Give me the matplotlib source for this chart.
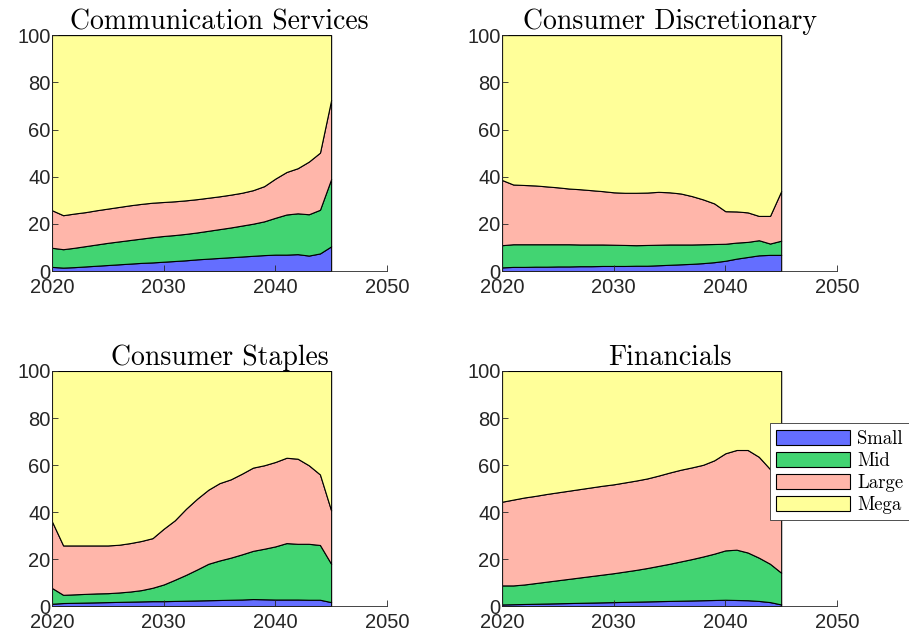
import numpy as np
import matplotlib
matplotlib.use('Agg')
import matplotlib.pyplot as plt

#%% data: market-cap shares (%) per sector, 2020-2045

years = np.arange(2020, 2046)
groups = ['Small', 'Mid', 'Large', 'Mega']
colors = ['#646EFF', '#42D472', '#FFB6AA', '#FFFF99']

comm_small = [1.8, 1.5, 1.7, 2.0, 2.3, 2.6, 2.9, 3.2, 3.5, 3.7, 4.0, 4.3, 4.6,
              5.0, 5.3, 5.6, 5.9, 6.2, 6.5, 6.8, 7.0, 7.0, 7.2, 6.6, 7.5, 10.5]
comm_mid = [8.1, 7.8, 8.2, 8.6, 9.0, 9.4, 9.7, 10.0, 10.3, 10.7, 10.9, 11.0, 11.2,
            11.4, 11.8, 12.2, 12.6, 13.1, 13.6, 14.3, 15.6, 17.0, 17.3, 17.5, 18.5, 28.5]
comm_large = [15.9, 14.4, 14.5, 14.4, 14.5, 14.5, 14.6, 14.7, 14.7, 14.6, 14.4, 14.3, 14.2,
              14.1, 14.0, 13.9, 13.9, 13.9, 14.2, 14.9, 16.6, 18.0, 19.1, 22.3, 24.2, 33.5]
comm_mega = [74.2, 76.3, 75.6, 75.0, 74.2, 73.5, 72.8, 72.1, 71.5, 71.0, 70.7, 70.4, 70.0,
             69.5, 68.9, 68.3, 67.6, 66.8, 65.7, 64.0, 60.8, 58.0, 56.4, 53.6, 49.8, 27.5]

disc_small = [1.6, 1.8, 1.8, 1.9, 1.9, 2.0, 2.0, 2.1, 2.1, 2.2, 2.2, 2.2, 2.3,
              2.3, 2.5, 2.7, 2.9, 3.1, 3.4, 3.8, 4.4, 5.3, 6.0, 6.7, 6.9, 6.9]
disc_mid = [9.4, 9.6, 9.6, 9.5, 9.5, 9.4, 9.4, 9.2, 9.2, 9.1, 9.0, 8.9, 8.7,
            8.8, 8.7, 8.6, 8.4, 8.2, 8.0, 7.7, 7.2, 6.8, 6.4, 6.4, 4.8, 6.0]
disc_large = [27.6, 25.3, 25.1, 24.9, 24.5, 24.1, 23.6, 23.4, 23.0, 22.6, 22.2, 22.1, 22.2,
              22.2, 22.4, 22.1, 21.6, 20.5, 19.0, 17.2, 13.8, 13.2, 12.5, 10.3, 11.7, 21.0]
disc_mega = [61.4, 63.3, 63.5, 63.7, 64.1, 64.5, 65.0, 65.3, 65.7, 66.1, 66.6, 66.8, 66.8,
             66.7, 66.4, 66.6, 67.1, 68.2, 69.6, 71.3, 74.6, 74.7, 75.1, 76.6, 76.6, 66.1]

stap_small = [1.0, 1.3, 1.4, 1.5, 1.6, 1.7, 1.8, 1.9, 2.0, 2.1, 2.1, 2.2, 2.3,
              2.4, 2.5, 2.6, 2.7, 2.8, 3.0, 2.9, 2.8, 2.8, 2.8, 2.7, 2.7, 1.7]
stap_mid = [6.7, 3.5, 3.6, 3.7, 3.8, 3.8, 4.0, 4.3, 4.8, 5.7, 7.1, 9.0, 11.0,
            13.2, 15.5, 16.8, 17.9, 19.2, 20.5, 21.5, 22.6, 24.0, 23.7, 23.8, 23.3, 16.3]
stap_large = [28.3, 21.0, 20.8, 20.6, 20.4, 20.3, 20.3, 20.6, 20.9, 21.1, 23.7, 25.3, 28.1,
              30.1, 31.5, 32.9, 33.3, 34.3, 35.4, 35.5, 35.9, 36.3, 36.2, 33.4, 30.0, 22.7]
stap_mega = [64.0, 74.2, 74.2, 74.2, 74.2, 74.2, 73.9, 73.2, 72.3, 71.1, 67.1, 63.5, 58.6,
             54.3, 50.5, 47.7, 46.1, 43.7, 41.1, 40.1, 38.7, 36.9, 37.3, 40.1, 44.0, 59.3]

fin_small = [0.7, 0.8, 0.9, 1.0, 1.1, 1.2, 1.3, 1.4, 1.5, 1.6, 1.7, 1.8, 1.9,
             2.0, 2.1, 2.2, 2.3, 2.4, 2.5, 2.6, 2.7, 2.6, 2.5, 2.2, 1.7, 0.7]
fin_mid = [8.1, 8.0, 8.3, 8.8, 9.3, 9.8, 10.3, 10.8, 11.3, 11.8, 12.3, 12.9, 13.5,
           14.2, 15.0, 15.8, 16.7, 17.6, 18.6, 19.7, 21.0, 21.4, 20.3, 18.4, 16.3, 13.5]
fin_large = [35.6, 36.5, 37.0, 37.1, 37.3, 37.4, 37.5, 37.6, 37.7, 37.8, 37.8, 37.9, 38.0,
             38.1, 38.4, 38.8, 39.0, 39.0, 39.0, 39.7, 41.3, 42.4, 43.6, 42.9, 40.3, 40.8]
fin_mega = [55.6, 54.7, 53.8, 53.1, 52.3, 51.6, 50.9, 50.2, 49.5, 48.8, 48.2, 47.4, 46.6,
            45.7, 44.5, 43.2, 42.0, 41.0, 39.9, 38.0, 35.0, 33.6, 33.6, 36.5, 41.7, 45.0]

sectors = {
    'Communication Services': (comm_small, comm_mid, comm_large, comm_mega),
    'Consumer Discretionary': (disc_small, disc_mid, disc_large, disc_mega),
    'Consumer Staples': (stap_small, stap_mid, stap_large, stap_mega),
    'Financials': (fin_small, fin_mid, fin_large, fin_mega),
}

#%% plot

axcol = '#262626'
fig = plt.figure(figsize=(9.09, 6.38), dpi=100)
pos = [[0.0572, 0.575, 0.3685, 0.370],
       [0.5523, 0.575, 0.3685, 0.370],
       [0.0572, 0.050, 0.3685, 0.3685],
       [0.5523, 0.050, 0.3685, 0.3685]]

for p, (name, shares) in zip(pos, sectors.items()):
    ax = fig.add_axes(p)
    ax.stackplot(years, *shares, colors=colors, labels=groups,
                 edgecolor='k', linewidth=0.8)
    ax.set_xlim(2020, 2050)
    ax.set_ylim(0, 100)
    ax.set_xticks([2020, 2030, 2040, 2050])
    ax.set_yticks(range(0, 101, 20))
    ax.spines['top'].set_visible(False)
    ax.spines['right'].set_visible(False)
    for s in ['left', 'bottom']:
        ax.spines[s].set_color(axcol)
        ax.spines[s].set_linewidth(0.6)
    ax.tick_params(direction='in', length=4, width=0.6, color=axcol,
                   labelcolor=axcol, labelsize=14.5)
    for lab in ax.get_xticklabels() + ax.get_yticklabels():
        lab.set_fontfamily('Liberation Sans')
    ax.tick_params(axis='y', pad=1)
    ax.tick_params(axis='x', pad=5)
    ax.set_title(name, fontfamily='cmr10', fontsize=20, pad=4)

handles, labels = ax.get_legend_handles_labels()
leg = fig.legend(handles, labels, loc='upper left', bbox_to_anchor=(0.847, 0.337),
                 prop={'family': 'cmr10', 'size': 13.5}, fancybox=False,
                 framealpha=1, edgecolor='#333333', handlelength=3.9,
                 handleheight=0.9, labelspacing=0.2, borderpad=0.35,
                 handletextpad=0.4, borderaxespad=0)
leg.get_frame().set_linewidth(0.6)

plt.savefig('out.png', dpi=100)
